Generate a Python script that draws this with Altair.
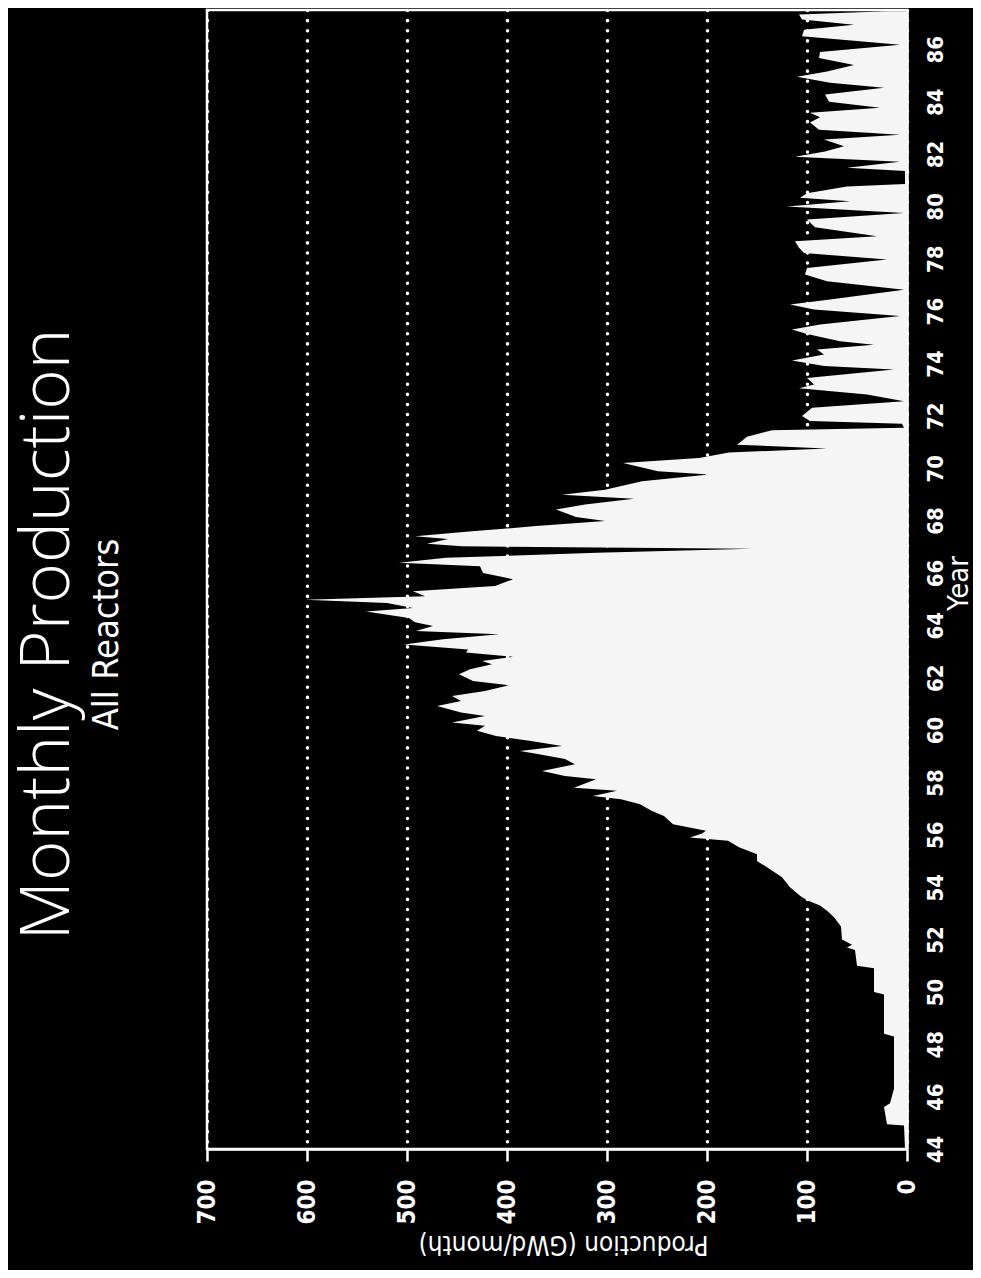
import altair as alt
import pandas as pd

# Monthly production, all reactors (year = 19xx, decimal)
years = [
    44.0, 44.9, 44.95, 45.6, 45.75, 46.3, 48.3, 48.4, 49.9, 50.0, 50.9, 51.0, 51.6, 51.7, 51.8,
    52.0, 52.5, 52.85, 53.1, 53.3, 53.5, 53.67, 54.0, 54.38, 54.76, 55.0, 55.26, 55.52, 55.77,
    55.9, 56.05, 56.15, 56.4, 56.72, 56.91, 57.17, 57.36, 57.48, 57.68, 57.8, 58.12, 58.25,
    58.44, 58.69, 58.89, 59.08, 59.2, 59.39, 59.58, 59.77, 59.97, 60.16, 60.29, 60.54, 60.67,
    60.92, 61.11, 61.3, 61.49, 61.71, 61.87, 62.13, 62.32, 62.51, 62.64, 62.8, 62.96, 63.08,
    63.27, 63.47, 63.66, 63.78, 63.97, 64.12, 64.28, 64.53, 64.66, 64.85, 64.98, 65.11, 65.3,
    65.5, 65.76, 66.0, 66.26, 66.39, 66.58, 66.77, 66.92, 67.02, 67.12, 67.3, 67.4, 67.59,
    67.79, 67.98, 68.14, 68.42, 68.61, 68.83, 68.99, 69.18, 69.5, 69.76, 69.88, 70.2, 70.39,
    70.6, 70.75, 70.9, 71.2, 71.45, 71.55, 71.7, 71.8, 71.99, 72.31, 72.56, 72.82, 73.05,
    73.2, 73.45, 73.77, 73.9, 74.11, 74.34, 74.53, 74.72, 74.85, 75.13, 75.3, 75.49, 75.81,
    76.06, 76.25, 76.44, 76.82, 77.14, 77.4, 77.65, 77.97, 78.22, 78.42, 78.67, 78.86, 79.2,
    79.5, 79.75, 80.0, 80.2, 80.33, 80.5, 80.76, 80.85, 81.35, 81.48, 81.7, 81.9, 82.1, 82.3,
    82.55, 82.74, 82.93, 83.2, 83.4, 83.58, 83.77, 84.0, 84.27, 84.53, 84.72, 84.95, 85.15,
    85.4, 85.67, 85.9, 86.17, 86.5, 86.75, 86.94, 87.14, 87.33, 87.45,
]
production = [
    2, 3, 20, 23, 17, 13, 13, 23, 23, 33, 33, 50, 52, 60, 55,
    65, 66, 73, 80, 87, 100, 107, 117, 125, 140, 150, 150, 168, 179,
    217, 205, 201, 234, 243, 255, 267, 286, 314, 290, 333, 311, 342,
    365, 332, 342, 368, 387, 345, 376, 411, 430, 422, 455, 422, 446,
    470, 446, 455, 422, 398, 434, 448, 437, 415, 425, 394, 441, 439,
    503, 464, 408, 491, 474, 492, 498, 541, 494, 520, 602, 482, 494,
    412, 394, 424, 427, 508, 461, 310, 155, 445, 480, 459, 492, 435,
    371, 302, 331, 351, 322, 273, 345, 302, 265, 198, 249, 284, 208,
    178, 80, 170, 160, 135, 3, 5, 97, 105, 95, 3, 40, 108,
    93, 100, 13, 83, 115, 83, 90, 33, 67, 100, 115, 87, 7,
    93, 117, 77, 3, 80, 102, 100, 20, 103, 108, 112, 30, 92,
    100, 3, 120, 57, 107, 100, 60, 2, 2, 60, 7, 112, 82, 63,
    83, 7, 88, 97, 87, 97, 27, 78, 82, 23, 77, 110, 80,
    53, 88, 87, 7, 105, 103, 53, 105, 108, 20,
]

year_ticks = list(range(44, 87, 2))
prod_ticks = [0, 100, 200, 300, 400, 500, 600, 700]

df = pd.DataFrame({"year": years, "production": production})

area = alt.Chart(df).mark_area(
    color="#f5f5f5", orient="horizontal", interpolate="linear", opacity=1
).encode(
    y=alt.Y(
        "year:Q",
        scale=alt.Scale(domain=[44, 87.5], nice=False, zero=False),
        axis=alt.Axis(
            orient="right", values=year_ticks, title="Year",
            labelAngle=270, labelAlign="center", labelBaseline="top",
            labelFont="DejaVu Sans Condensed", labelFontWeight="bold",
            labelFontSize=22, labelColor="white", labelPadding=18,
            ticks=False, grid=False,
            domainColor="white", domainWidth=2.5,
            titleFont="DejaVu Sans Condensed", titleFontSize=29,
            titleFontWeight="normal", titleColor="white",
            titleAngle=270, titleAlign="center", titleBaseline="middle",
            titleX=51, titleY=573,
        ),
    ),
    x=alt.X(
        "production:Q",
        scale=alt.Scale(domain=[0, 700], reverse=True, nice=False),
        axis=alt.Axis(
            orient="bottom", values=prod_ticks, title="Production (GWd/month)",
            labelAngle=270, labelAlign="right", labelBaseline="middle",
            labelFont="DejaVu Sans Condensed", labelFontWeight="bold",
            labelFontSize=24, labelColor="white", labelPadding=18,
            ticks=True, tickSize=12, tickColor="white", tickWidth=2.5,
            grid=True, gridColor="white", gridWidth=3.5, gridCap="round",
            gridDash=[0.1, 10], gridOpacity=1,
            domainColor="white", domainWidth=2.5,
            titleFont="DejaVu Sans Condensed", titleFontSize=26,
            titleFontWeight="normal", titleColor="white",
            titleAngle=180, titleAlign="center", titleBaseline="middle",
            titleX=356, titleY=94,
        ),
    ),
)

chart = area.properties(
    width=700,
    height=1139,
    autosize=alt.AutoSizeParams(type="none"),
    padding={"left": 199, "top": 2, "right": 66, "bottom": 121},
    title=alt.TitleParams(
        text="Monthly Production",
        subtitle="All Reactors",
        orient="left",
        anchor="middle",
        font="Open Sans",
        fontWeight=300,
        fontSize=69,
        color="white",
        subtitleFont="DejaVu Sans Condensed",
        subtitleFontSize=36,
        subtitleColor="white",
        subtitlePadding=7,
        offset=70,
        dx=-55,
    ),
).configure(
    background="black",
).configure_view(
    stroke="white",
    strokeWidth=2.5,
)

chart.save("out.html", embed_options={"renderer": "svg", "actions": False})
